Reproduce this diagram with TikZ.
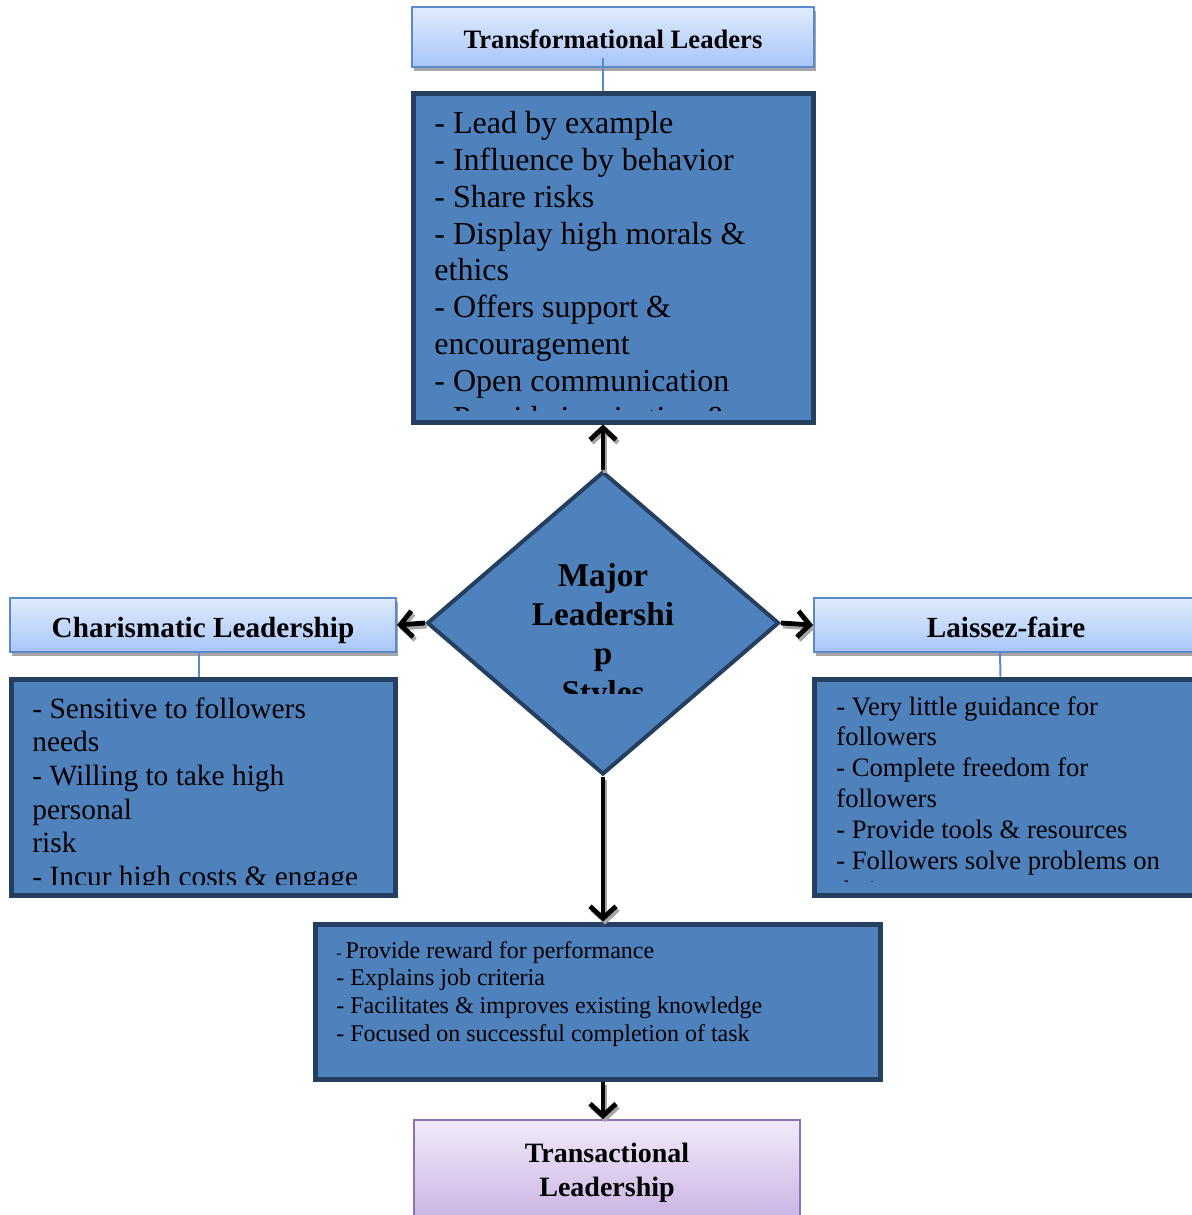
\documentclass[tikz,border=0pt]{standalone}
\usepackage{fontspec}
\setmainfont{Liberation Serif}
\usetikzlibrary{shapes.geometric,arrows.meta,shadows}

\definecolor{boxblue}{HTML}{4F81BD}
\definecolor{boxedge}{HTML}{243F60}
\definecolor{hdtop}{HTML}{E0EBFD}
\definecolor{hdbot}{HTML}{A8C6F8}
\definecolor{hdedge}{HTML}{5B8ACB}
\definecolor{ptop}{HTML}{F1EAF8}
\definecolor{pbot}{HTML}{C8B0E3}
\definecolor{pedge}{HTML}{8F72B3}

\begin{document}
\begin{tikzpicture}[x=0.5pt,y=-0.5pt]
  \tikzstyle{header}=[rectangle,draw=hdedge,line width=1pt,top color=hdtop,bottom color=hdbot,inner sep=0pt,
    font=\bfseries\fontsize{14.6}{17}\selectfont,text height=12pt,text depth=0pt,
    drop shadow={shadow xshift=1pt,shadow yshift=-2pt,fill=black!35,opacity=1}]
  \tikzstyle{endbox}=[rectangle,draw=pedge,line width=1pt,top color=ptop,bottom color=pbot,inner sep=0pt,
    font=\bfseries\fontsize{14}{17}\selectfont,align=center]
  \tikzstyle{listbox}=[rectangle,draw=boxedge,line width=2.5pt,fill=boxblue,inner sep=0pt]
  \tikzstyle{listtext}=[anchor=north west,align=left,inner sep=0pt]
  \tikzstyle{tie}=[draw=hdedge,line width=1pt]
  \tikzstyle{link}=[line width=2.4pt,-{Straight Barb[length=6pt,width=13pt]}]
  \tikzstyle{linkshade}=[link,black!35,transform canvas={shift={(1pt,-1.5pt)}}]

  \useasboundingbox (0,0) rectangle (1192,1215);
  \fill[white] (0,0) rectangle (1192,1215);

  % boxes
  \node[header,minimum width=201pt,minimum height=30pt,font=\bfseries\fontsize{13.3}{15}\selectfont,text height=11pt] (H_1) at (613,37) {Transformational Leaders};
  \node[listbox,minimum width=200pt,minimum height=164.5pt] (B_1) at (613,257.5) {};
  \node[header,minimum width=193pt,minimum height=27pt] (H_3) at (203,625) {Charismatic Leadership};
  \node[listbox,minimum width=192pt,minimum height=108pt] (B_3) at (203,787) {};
  \node[header,minimum width=192pt,minimum height=27pt] (H_4) at (1006,625) {Laissez-faire};
  \node[listbox,minimum width=192pt,minimum height=108pt] (B_4) at (1006.5,787) {};
  \node[listbox,minimum width=282.5pt,minimum height=77.5pt] (B_5) at (597.5,1001.5) {};
  \node[endbox,minimum width=193pt,minimum height=53pt] (H_5) at (607,1173) {Transactional\\Leadership};

  \draw[tie] ([xshift=-5pt,yshift=5pt]H_1.south) -- ([xshift=-5pt]B_1.north);
  \draw[tie] ([xshift=-2pt]H_3.south) -- ([xshift=-2pt]B_3.north);
  \draw[tie] ([xshift=-3pt]H_4.south) -- ([xshift=-3pt]B_4.north);

  % texts
  \begin{scope}
    \clip (B_1.north west) rectangle ([yshift=7pt]B_1.south east);
    \node[listtext,font=\fontsize{16}{18.4}\selectfont] (T_1) at (434,111)
      {- Lead by example\\- Influence by behavior\\- Share risks\\- Display high morals \&\\ethics\\- Offers support \&\\encouragement\\- Open communication\\- Provide inspiration \&};
  \end{scope}
  \begin{scope}
    \clip (B_3.north west) rectangle ([yshift=6.5pt]B_3.south east);
    \node[listtext,font=\fontsize{14.7}{16.85}\selectfont] (T_3) at (32,697)
      {- Sensitive to followers\\needs\\- Willing to take high\\personal\\risk\\- Incur high costs \& engage\\in};
  \end{scope}
  \begin{scope}
    \clip (B_4.north west) rectangle ([yshift=8pt]B_4.south east);
    \node[listtext,font=\fontsize{13.3}{15.4}\selectfont] (T_4) at (836,696)
      {- Very little guidance for\\followers\\- Complete freedom for\\followers\\- Provide tools \& resources\\- Followers solve problems on\\their own};
  \end{scope}
  \node[listtext,font=\fontsize{12}{13.8}\selectfont] (T_5) at (336,941)
    {{\fontsize{8}{8}\selectfont -}\,Provide reward for performance\\- Explains job criteria\\- Facilitates \& improves existing knowledge\\- Focused on successful completion of task};

  % centre
  \node[diamond,draw=boxedge,line width=2pt,fill=boxblue,minimum width=176pt,minimum height=151.5pt,inner sep=0pt] (S_0) at (603,623) {};
  \begin{scope}
    \clip ([xshift=-100pt]S_0.north) rectangle ([xshift=100pt,yshift=-35pt]S_0.center);
    \node[anchor=north,align=center,inner sep=0pt,font=\bfseries\fontsize{16.6}{19.5}\selectfont] (T_0) at (603,563)
      {Major\\Leadershi\\p\\Styles};
  \end{scope}

  % arrows
  \draw[linkshade] (S_0.north) -- (B_1.south -| S_0);
  \draw[link] (S_0.north) -- (B_1.south -| S_0);
  \draw[linkshade] (S_0.west) -- (H_3.east);
  \draw[link] (S_0.west) -- (H_3.east);
  \draw[linkshade] (S_0.east) -- (H_4.west);
  \draw[link] (S_0.east) -- (H_4.west);
  \draw[linkshade] (S_0.south) -- (B_5.north -| S_0);
  \draw[link] (S_0.south) -- (B_5.north -| S_0);
  \draw[linkshade] (B_5.south -| S_0) -- (H_5.north -| S_0);
  \draw[link] (B_5.south -| S_0) -- (H_5.north -| S_0);
\end{tikzpicture}
\end{document}
